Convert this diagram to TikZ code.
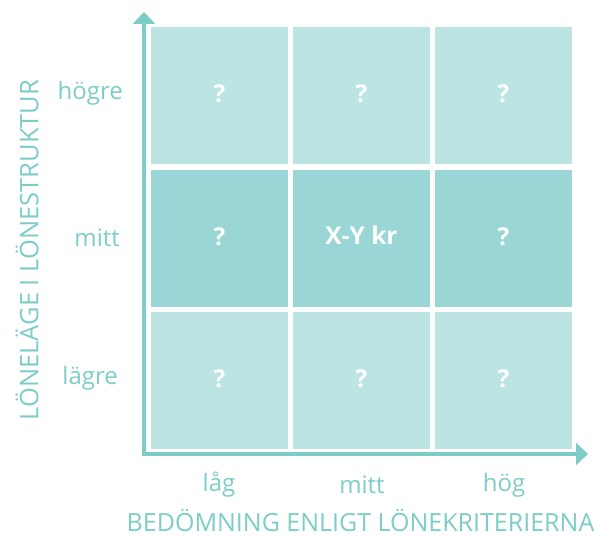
\documentclass[tikz,border=0pt]{standalone}
\usepackage{fontspec}
\setmainfont{Open Sans}
\usetikzlibrary{arrows.meta}
\definecolor{celllight}{HTML}{BCE4E3}
\definecolor{celldark}{HTML}{99D6D5}
\definecolor{axisteal}{HTML}{7CCDC8}
\newcommand{\celltxt}[2][4pt]{\raisebox{#1}{#2}}
\begin{document}
\begin{tikzpicture}[x=1pt, y=-1pt, font=\fontsize{24}{26}\selectfont,
          >={Triangle[width=22pt, length=12pt]},
          cell/.style={fill=celllight, minimum size=137pt, inner sep=0pt, text=white, font=\fontsize{24.5}{26}\selectfont\bfseries},
          mid/.style={cell, fill=celldark},
          lbl/.style={text=axisteal, inner sep=0pt},
          axis/.style={->, line width=3.6pt, draw=axisteal}]
        \useasboundingbox (0,0) rectangle (594,537);
        % grid of cells
        \foreach \c in {0,1,2} {
          \node[cell] (c0\c) at (219.5+142*\c, 95.5) {\celltxt{?}};
          \node[cell] (c2\c) at (219.5+142*\c, 380.5) {\celltxt{?}};
        }
        \node[mid] (c10) at (219.5,238.5) {\celltxt{?}};
        \node[mid] (c11) at (361.5,238.5) {\celltxt[6pt]{X-Y kr}};
        \node[mid] (c12) at (503.5,238.5) {\celltxt{?}};
        % axes
        \coordinate (orig) at (144,454);
        \coordinate (ytop) at (144,12);
        \coordinate (xend) at (588,454);
        \draw[axis] ([yshift=1.8pt]orig) -- (ytop);
        \draw[axis] ([xshift=-1.8pt]orig) -- (xend);
        % row labels
        \node[lbl, anchor=east] (hi) at (123,93) {högre};
        \node[lbl, anchor=east] (md) at (120,238) {mitt};
        \node[lbl, anchor=east] (lo) at (118,378) {lägre};
        % column labels
        \node[lbl] (xlo) at (219,485) {låg};
        \node[lbl] (xmd) at (362,485) {mitt};
        \node[lbl] (xhi) at (504,485) {hög};
        % axis titles
        \node[lbl, rotate=90, font=\fontsize{25.5}{27}\selectfont] (ytitle) at (27,250) {LÖNELÄGE I LÖNESTRUKTUR};
        \node[lbl, anchor=base, font=\fontsize{25}{27}\selectfont] (xtitle) at (360.5,531) {BEDÖMNING ENLIGT LÖNEKRITERIERNA};
      \end{tikzpicture}
\end{document}
